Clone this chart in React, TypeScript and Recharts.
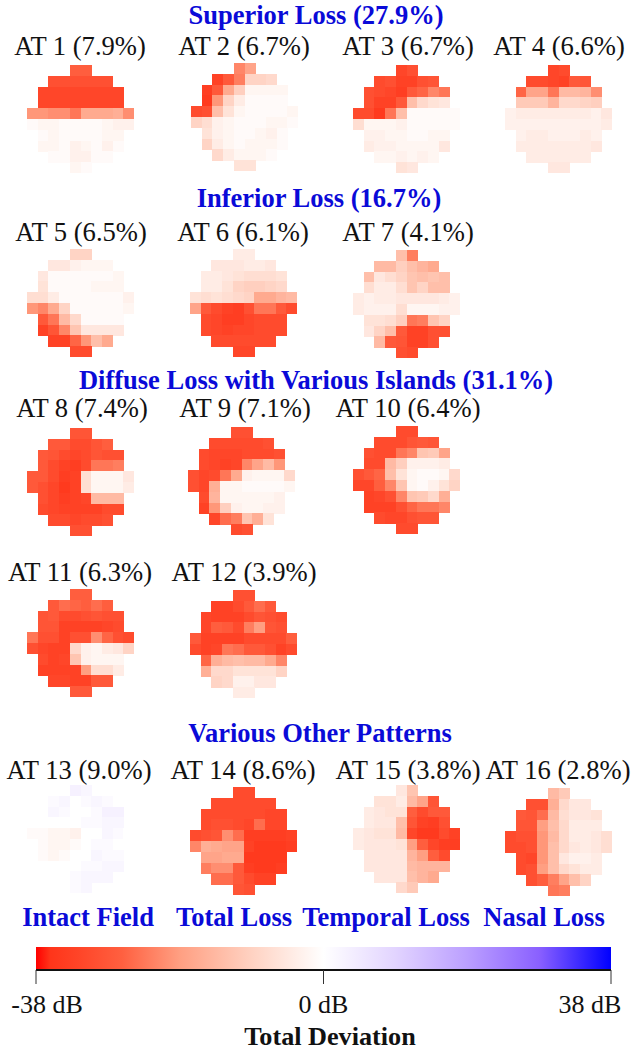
import { Area, AreaChart, Scatter, ScatterChart, XAxis, YAxis } from "recharts";

// ── Visual field maps: total deviation in dB, row by row (10-2 grid) ──────────
const AT1 = [
  [-27, -27],
  [-30, -30, -30, -30, -30, -30],
  [-32, -32, -32, -32, -32, -32, -32, -32],
  [-32, -32, -32, -32, -32, -32, -32, -32],
  [-20, -20, -21, -21, -24, -17, -17, -17, -16, -21],
  [-1, -2, -2, -1, -1, -1, -1, -2, -3, -3],
  [-1, -2, -1, -1, -1, -1, -2, -2],
  [-2, -2, -1, -3, -2, -1, -3, -1],
  [-1, -1, -3, -3, -1, -1],
  [-2, -1],
];
const AT2 = [
  [-22, -18],
  [-33, -28, -23, -9, -9, -8],
  [-34, -28, -17, -10, -2, -2, -2, -2],
  [-35, -20, -9, -4, -1, -1, -1, -1],
  [-31, -30, -13, -6, -2, -1, -1, -1, -1, -2],
  [-9, -7, -3, -2, -1, -1, -1, -2, -2, -1],
  [-6, -3, -2, -1, -1, -2, -3, -1],
  [-9, -4, -2, -1, -2, -2, -2, -1],
  [-8, -4, -2, -2, -2, -1],
  [-6, -6],
];
const AT3 = [
  [-32, -30],
  [-31, -30, -33, -33, -30, -29],
  [-30, -31, -32, -34, -28, -26, -22, -24],
  [-30, -33, -33, -28, -13, -8, -6, -5],
  [-31, -31, -35, -24, -13, -1, -1, -1, -1, -1],
  [-7, -2, -2, -2, -3, -1, -1, -1, -1, -1],
  [-3, -3, -2, -2, -1, -1, -2, -2],
  [-4, -3, -3, -2, -2, -2, -2, -5],
  [-2, -2, -3, -2, -3, -2],
  [-6, -5],
];
const AT4 = [
  [-32, -31],
  [-31, -31, -32, -33, -28, -29],
  [-26, -18, -18, -24, -14, -14, -15, -21],
  [-11, -11, -11, -15, -8, -8, -9, -10],
  [-3, -4, -4, -4, -4, -4, -4, -4, -3, -5],
  [-3, -3, -3, -3, -3, -3, -3, -3, -3, -4],
  [-3, -4, -4, -3, -3, -3, -4, -3],
  [-4, -4, -4, -4, -4, -4, -4, -5],
  [-4, -4, -4, -4, -4, -4],
  [-5, -5],
];
const AT5 = [
  [-9, -9],
  [-5, -5, -3, -2, -2, -2],
  [-5, -1, -1, -1, -1, -1, -1, -2],
  [-6, -1, -1, -1, -1, -2, -2, -2],
  [-7, -7, -4, -1, -1, -1, -1, -1, -1, -3],
  [-20, -22, -17, -9, -1, -1, -1, -1, -1, -2],
  [-28, -24, -14, -8, -1, -1, -1, -1],
  [-33, -29, -22, -12, -5, -5, -5, -5],
  [-33, -33, -26, -20, -13, -17],
  [-31, -31],
];
const AT6 = [
  [-4, -4],
  [-5, -5, -5, -4, -4, -5],
  [-4, -4, -5, -6, -7, -7, -7, -6],
  [-4, -4, -6, -9, -10, -10, -9, -8],
  [-6, -7, -6, -7, -8, -9, -17, -17, -15, -14],
  [-18, -28, -31, -33, -34, -30, -24, -24, -28, -31],
  [-31, -32, -34, -34, -32, -31, -31, -31],
  [-31, -32, -33, -32, -32, -31, -31, -31],
  [-31, -31, -31, -31, -31, -31],
  [-32, -32],
];
const AT7 = [
  [-13, -23],
  [-14, -14, -10, -13, -15, -17],
  [-13, -5, -7, -9, -12, -13, -12, -13],
  [-7, -4, -4, -7, -12, -9, -13, -13],
  [-4, -3, -4, -4, -5, -5, -5, -5, -4, -3],
  [-4, -3, -3, -3, -7, -2, -2, -2, -3, -3],
  [-6, -6, -7, -10, -24, -23, -12, -9],
  [-5, -9, -13, -28, -33, -33, -30, -30],
  [-14, -28, -29, -33, -33, -30],
  [-30, -31],
];
const AT8 = [
  [-29, -29],
  [-28, -28, -31, -31, -29, -27],
  [-28, -29, -31, -32, -31, -29, -30, -30],
  [-28, -31, -33, -34, -31, -24, -24, -23],
  [-28, -28, -31, -34, -33, -7, -2, -2, -2, -5],
  [-28, -30, -32, -35, -33, -7, -2, -2, -2, -4],
  [-30, -32, -34, -33, -32, -14, -14, -14],
  [-31, -32, -33, -33, -33, -33, -31, -31],
  [-31, -31, -32, -31, -31, -30],
  [-30, -30],
];
const AT9 = [
  [-30, -30],
  [-31, -31, -31, -31, -31, -30],
  [-31, -32, -32, -32, -31, -31, -31, -30],
  [-31, -32, -33, -32, -22, -18, -14, -20],
  [-30, -32, -31, -24, -17, -3, -2, -2, -2, -8],
  [-30, -32, -16, -2, -2, -1, -1, -1, -1, -2],
  [-31, -15, -2, -2, -2, -2, -2, -3],
  [-33, -20, -10, -3, -2, -2, -3, -3],
  [-32, -25, -23, -12, -16, -6],
  [-31, -30],
];
const AT10 = [
  [-31, -31],
  [-31, -31, -31, -29, -28, -29],
  [-30, -31, -31, -24, -22, -12, -11, -18],
  [-31, -31, -14, -10, -3, -3, -3, -4],
  [-30, -28, -26, -13, -6, -2, -1, -1, -2, -8],
  [-32, -32, -27, -22, -12, -2, -1, -3, -6, -9],
  [-33, -32, -30, -22, -12, -11, -8, -16],
  [-33, -33, -33, -30, -26, -24, -24, -22],
  [-31, -32, -32, -30, -29, -29],
  [-31, -31],
];
const AT11 = [
  [-27, -27],
  [-28, -25, -26, -27, -25, -27],
  [-29, -28, -31, -31, -30, -29, -30, -30],
  [-29, -29, -33, -33, -33, -33, -32, -31],
  [-24, -30, -30, -33, -30, -30, -21, -26, -30, -31],
  [-30, -32, -33, -33, -8, -3, -2, -4, -5, -9],
  [-31, -33, -32, -12, -3, -2, -2, -2],
  [-33, -33, -33, -33, -19, -7, -7, -4],
  [-32, -32, -33, -33, -28, -28],
  [-28, -28],
];
const AT12 = [
  [-30, -30],
  [-33, -33, -31, -28, -25, -28],
  [-32, -33, -33, -33, -31, -29, -30, -31],
  [-32, -27, -28, -31, -23, -19, -29, -30],
  [-28, -33, -33, -33, -33, -31, -31, -31, -31, -27],
  [-31, -33, -32, -24, -25, -28, -28, -30, -33, -31],
  [-26, -16, -14, -13, -14, -14, -17, -22],
  [-16, -8, -8, -6, -6, -6, -6, -9],
  [-9, -8, -3, -3, -5, -5],
  [-4, -4],
];
const AT13 = [
  [3, 2],
  [1, 2, 0, 1, 2, 1],
  [0, 2, 1, 0, 0, 1, 3, 3],
  [0, 0, 0, 0, 1, 1, 2, 2],
  [-1, -1, -2, -2, -3, 0, 0, 2, 1, 0],
  [0, -1, -2, -2, -1, 0, 1, 1, 0, 0],
  [-1, -2, -1, 0, 0, 2, 1, 1],
  [0, 0, 0, 0, 1, 1, 2, 2],
  [0, 0, 1, 2, 2, 2],
  [1, 2],
];
const AT14 = [
  [-31, -31],
  [-31, -31, -31, -31, -31, -31],
  [-31, -31, -31, -31, -31, -31, -32, -32],
  [-31, -30, -30, -31, -32, -25, -32, -32],
  [-31, -30, -29, -21, -25, -34, -34, -34, -34, -33],
  [-22, -16, -17, -18, -18, -33, -35, -35, -35, -34],
  [-18, -18, -17, -17, -35, -35, -35, -35],
  [-23, -21, -21, -28, -34, -35, -35, -34],
  [-25, -25, -28, -31, -33, -33],
  [-29, -30],
];
const AT15 = [
  [-5, -12],
  [-6, -6, -4, -14, -18, -29],
  [-4, -5, -6, -6, -27, -31, -28, -28],
  [-4, -5, -5, -13, -29, -33, -34, -30],
  [-4, -5, -6, -6, -14, -32, -35, -35, -31, -33],
  [-4, -5, -5, -5, -6, -19, -27, -32, -34, -34],
  [-5, -5, -5, -5, -15, -19, -27, -31],
  [-5, -5, -5, -5, -14, -15, -15, -15],
  [-5, -5, -5, -13, -15, -17],
  [-8, -11],
];
const AT16 = [
  [-14, -11],
  [-30, -30, -16, -8, -5, -5],
  [-28, -29, -25, -14, -7, -5, -5, -6],
  [-29, -29, -19, -13, -8, -4, -4, -4],
  [-31, -30, -30, -20, -14, -8, -4, -4, -5, -7],
  [-31, -31, -30, -20, -13, -8, -5, -4, -5, -7],
  [-31, -32, -20, -13, -5, -3, -3, -4],
  [-31, -30, -19, -13, -8, -6, -4, -4],
  [-30, -27, -23, -18, -13, -9],
  [-24, -23],
];

const MAPS = [AT1, AT2, AT3, AT4, AT5, AT6, AT7, AT8, AT9, AT10, AT11, AT12, AT13, AT14, AT15, AT16];
const MAP_LABELS = [
  "AT 1 (7.9%)", "AT 2 (6.7%)", "AT 3 (6.7%)", "AT 4 (6.6%)",
  "AT 5 (6.5%)", "AT 6 (6.1%)", "AT 7 (4.1%)",
  "AT 8 (7.4%)", "AT 9 (7.1%)", "AT 10 (6.4%)",
  "AT 11 (6.3%)", "AT 12 (3.9%)",
  "AT 13 (9.0%)", "AT 14 (8.6%)", "AT 15 (3.8%)", "AT 16 (2.8%)",
];
const HEADINGS = [
  "Superior Loss (27.9%)",
  "Inferior Loss (16.7%)",
  "Diffuse Loss with Various Islands (31.1%)",
  "Various Other Patterns",
  "Intact Field",
  "Total Loss",
  "Temporal Loss",
  "Nasal Loss",
];
const SCALE_TICKS = [-38, 0, 38];
const SCALE_ENDS = [-38, 38];

// ── Layout ────────────────────────────────────────────────────────────────────
const ROW_START = [4, 2, 1, 1, 0, 0, 1, 1, 2, 4]; // first column of each grid row
const CELL_W = 10.65;
const CELL_H = 10.8;
const MAP_POS = [
  [27, 65], [191, 63], [353, 65], [505, 65],
  [27, 249], [190, 249], [353, 250],
  [27, 428], [188, 427], [353, 426],
  [27, 589], [190, 590],
  [27, 785], [190, 787], [353, 785], [505, 788],
];
const LABEL_POS = [
  [80, 46], [244, 46], [408, 46], [559, 46],
  [81, 232], [243, 232], [408, 232],
  [82, 408], [245, 408], [408, 408],
  [80, 572], [244, 572],
  [79, 770], [243, 770], [408, 770], [558, 770],
];
const HEADING_POS = [
  [316, 15], [319, 198], [316, 380], [320, 733],
  [88, 917], [234, 917], [386, 917], [544, 917],
];
const SERIF = "'Liberation Serif', 'Times New Roman', serif";

// ── Colour scale ──────────────────────────────────────────────────────────────
const RED_OFFSETS = [0, 0.25, 0.5, 0.7, 0.85, 0.95, 1];
const RED_STOPS = ["#ffffff", "#ffd2c2", "#ff9f82", "#ff6040", "#ff4528", "#ff351a", "#ff0000"];
const BLUE_OFFSETS = [0, 0.25, 0.5, 0.75, 1];
const BLUE_STOPS = ["#ffffff", "#e2d4ff", "#bb9fff", "#8a60ff", "#0000ff"];

function mix(a: string, b: string, t: number) {
  const pa = [1, 3, 5].map((i) => parseInt(a.slice(i, i + 2), 16));
  const pb = [1, 3, 5].map((i) => parseInt(b.slice(i, i + 2), 16));
  const c = pa.map((v, i) => Math.round(v + (pb[i] - v) * t));
  return `rgb(${c[0]},${c[1]},${c[2]})`;
}

function colorFor(db: number) {
  const stops = db < 0 ? RED_STOPS : BLUE_STOPS;
  const offsets = db < 0 ? RED_OFFSETS : BLUE_OFFSETS;
  const t = Math.abs(db) / 38;
  let i = 0;
  while (i < offsets.length - 2 && t > offsets[i + 1]) i++;
  return mix(stops[i], stops[i + 1], (t - offsets[i]) / (offsets[i + 1] - offsets[i]));
}

function CellSquare(props: any) {
  return (
    <rect
      x={props.cx - CELL_W / 2}
      y={props.cy - CELL_H / 2}
      width={CELL_W + 0.4}
      height={CELL_H + 0.4}
      fill={colorFor(props.payload.value)}
      shapeRendering="crispEdges"
    />
  );
}

function FieldMap({ rows, left, top }: { rows: number[][]; left: number; top: number }) {
  const data = rows.flatMap((row, r) =>
    row.map((value, i) => ({ col: ROW_START[r] + i, row: r, value }))
  );
  return (
    <div style={{ position: "absolute", left, top, filter: "blur(0.6px)" }}>
      <ScatterChart width={107} height={108} margin={{ top: 0, right: 0, bottom: 0, left: 0 }}>
        <XAxis type="number" dataKey="col" domain={[-0.5, 9.5]} hide />
        <YAxis type="number" dataKey="row" domain={[-0.5, 9.5]} reversed hide />
        <Scatter data={data} shape={CellSquare} isAnimationActive={false} />
      </ScatterChart>
    </div>
  );
}

function ScaleTick(props: any) {
  const { x, y, payload } = props;
  const shift = payload.value < 0 ? 11 : payload.value > 0 ? -21 : 0;
  return (
    <text x={x + shift} y={y + 27} textAnchor="middle" fontFamily={SERIF} fontSize={26} fill="#111">
      {`${payload.value} dB`}
    </text>
  );
}

function ColorBar() {
  const data = SCALE_ENDS.map((x) => ({ x, level: 1 }));
  return (
    <div style={{ position: "absolute", left: 0, top: 947 }}>
      <AreaChart width={631} height={80} data={data} margin={{ top: 0, right: 20, bottom: 0, left: 36 }}>
        <defs>
          <linearGradient id="scaleGrad" x1="0" y1="0" x2="1" y2="0">
            {RED_STOPS.map((c, i) => (
              <stop key={`r${i}`} offset={`${50 - RED_OFFSETS[i] * 50}%`} stopColor={c} />
            )).reverse()}
            {BLUE_STOPS.slice(1).map((c, i) => (
              <stop key={`b${i}`} offset={`${50 + BLUE_OFFSETS[i + 1] * 50}%`} stopColor={c} />
            ))}
          </linearGradient>
        </defs>
        <XAxis
          type="number"
          dataKey="x"
          domain={[-38, 38]}
          ticks={SCALE_TICKS}
          height={57}
          tick={ScaleTick}
          tickSize={14}
          stroke="#111"
          axisLine={{ stroke: "#111", strokeWidth: 2 }}
          tickLine={{ stroke: "#333", strokeWidth: 1 }}
        />
        <YAxis type="number" domain={[0, 1]} hide />
        <Area dataKey="level" stroke="none" fill="url(#scaleGrad)" fillOpacity={1} dot={false} activeDot={false} isAnimationActive={false} />
      </AreaChart>
    </div>
  );
}

function Caption({ text, x, y, size, bold, color }: { text: string; x: number; y: number; size: number; bold?: boolean; color: string }) {
  return (
    <div
      style={{
        position: "absolute",
        left: x - 300,
        top: y - 20,
        width: 600,
        height: 40,
        lineHeight: "40px",
        textAlign: "center",
        fontFamily: SERIF,
        fontSize: size,
        fontWeight: bold ? 700 : 400,
        color,
        whiteSpace: "nowrap",
      }}
    >
      {text}
    </div>
  );
}

export default function App() {
  return (
    <div style={{ position: "absolute", left: 0, top: 0, width: 631, height: 1050, overflow: "hidden", background: "#fff" }}>
      {HEADINGS.map((h, i) => (
        <Caption key={h} text={h} x={HEADING_POS[i][0]} y={HEADING_POS[i][1]} size={26.5} bold color="#0a0ad8" />
      ))}
      {MAP_LABELS.map((l, i) => (
        <Caption key={l} text={l} x={LABEL_POS[i][0]} y={LABEL_POS[i][1]} size={26.6} color="#111" />
      ))}
      {MAPS.map((rows, i) => (
        <FieldMap key={i} rows={rows} left={MAP_POS[i][0]} top={MAP_POS[i][1]} />
      ))}
      <ColorBar />
      <Caption text="Total Deviation" x={330} y={1037} size={26.2} bold color="#111" />
    </div>
  );
}
